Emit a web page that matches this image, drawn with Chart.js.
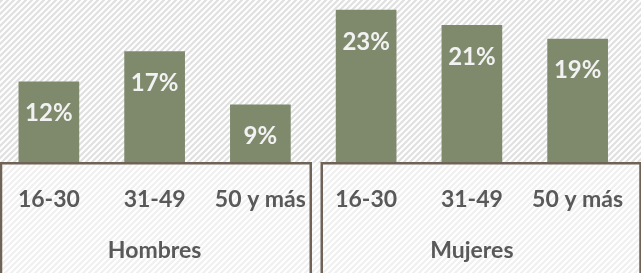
<!DOCTYPE html>
<html lang="es">

<head>
    <meta charset="utf-8">
    <title>Por edad y sexo</title>
    <script src="https://cdn.jsdelivr.net/npm/chart.js@4.4.0/dist/chart.umd.min.js"></script>
    <style>
        body {
            margin: 0;
            padding: 0;
            background: #ffffff;
            overflow: hidden;
            font-family: 'Lato', sans-serif;
        }

        #chart-container {
            position: absolute;
            left: -4px;
            top: 0;
            width: 650px;
            height: 273px;
        }
    </style>
</head>

<body>
    <div id="chart-container">
        <canvas id="edadChart"></canvas>
    </div>

    <script>
        // datos
        const ageLabels = ['16-30', '31-49', '50 y más', '16-30', '31-49', '50 y más'];
        const groupLabels = ['Hombres', 'Mujeres'];
        const percentages = [12.4, 17.0, 8.9, 23.3, 21.0, 18.9];

        const barColor = '#7f8a6d';
        const boxColor = '#6f6257';

        function stripePattern(ctx, stripe) {
            const tile = document.createElement('canvas');
            tile.width = 6;
            tile.height = 6;
            const t = tile.getContext('2d');
            t.fillStyle = '#ffffff';
            t.fillRect(0, 0, 6, 6);
            t.strokeStyle = stripe;
            t.lineWidth = 2.2;
            t.beginPath();
            t.moveTo(-1, 7); t.lineTo(7, -1);
            t.moveTo(-1, 1); t.lineTo(1, -1);
            t.moveTo(5, 7); t.lineTo(7, 5);
            t.stroke();
            return ctx.createPattern(tile, 'repeat');
        }

        // fondo rayado
        const backgroundPlugin = {
            id: 'stripes',
            beforeDraw(chart) {
                const { ctx, chartArea } = chart;
                ctx.save();
                ctx.fillStyle = stripePattern(ctx, '#e0e0e0');
                ctx.fillRect(0, 0, chart.width, chartArea.bottom);
                ctx.fillStyle = stripePattern(ctx, '#f0f0f0');
                ctx.fillRect(0, chartArea.bottom, chart.width, chart.height - chartArea.bottom);
                ctx.restore();
            }
        };

        // cajas de los grupos + etiquetas de valor
        const boxesPlugin = {
            id: 'groupBoxes',
            afterDatasetsDraw(chart) {
                const { ctx, chartArea, scales } = chart;
                const x = scales.x;
                const half = (x.getPixelForValue(1) - x.getPixelForValue(0)) / 2;
                const top = chartArea.bottom + 0.5;
                const bottom = chart.height + 10;
                const mid = x.getPixelForValue(2) + half;
                const boxes = [
                    [x.getPixelForValue(0) - half + 5, mid - 2.5],
                    [mid + 8.5, x.getPixelForValue(5) + half + 10]
                ];

                ctx.save();
                ctx.strokeStyle = boxColor;
                ctx.lineWidth = 2.5;
                boxes.forEach(([l, r]) => {
                    ctx.beginPath();
                    ctx.moveTo(l, bottom);
                    ctx.lineTo(l, top);
                    ctx.lineTo(r, top);
                    ctx.lineTo(r, bottom);
                    ctx.stroke();
                });

                ctx.fillStyle = '#f2f2f2';
                ctx.font = 'bold 24px Lato';
                ctx.textAlign = 'center';
                ctx.textBaseline = 'middle';
                chart.getDatasetMeta(0).data.forEach((bar, i) => {
                    ctx.fillText(Math.round(percentages[i]) + '%', bar.x, bar.y + 32);
                });
                ctx.restore();
            }
        };

        const ctx = document.getElementById('edadChart').getContext('2d');

        const edadChart = new Chart(ctx, {
            type: 'bar',
            data: {
                labels: ageLabels,
                datasets: [
                    {
                        data: percentages,
                        backgroundColor: barColor,
                        borderWidth: 0,
                        barPercentage: 0.574,
                        categoryPercentage: 1
                    }
                ]
            },
            options: {
                responsive: true,
                maintainAspectRatio: false,
                animation: false,
                layout: {
                    padding: { left: 0, right: 3, top: 0, bottom: 9 }
                },
                plugins: {
                    legend: { display: false },
                    tooltip: { enabled: false }
                },
                scales: {
                    x: {
                        weight: 0,
                        grid: { display: false, drawTicks: false, tickLength: 0 },
                        border: { display: false },
                        ticks: {
                            color: '#595959',
                            font: { family: 'Lato', size: 23, weight: 'bold' },
                            padding: 22.6,
                            maxRotation: 0,
                            autoSkip: false
                        },
                        afterFit(scale) { scale.height = 50.2; }
                    },
                    x2: {
                        type: 'category',
                        position: 'bottom',
                        weight: 1,
                        labels: groupLabels,
                        offset: true,
                        grid: { display: false, drawTicks: false, tickLength: 0 },
                        border: { display: false },
                        ticks: {
                            color: '#595959',
                            font: { family: 'Lato', size: 23, weight: 'bold' },
                            padding: 23.4,
                            maxRotation: 0,
                            autoSkip: false
                        },
                        afterFit(scale) { scale.height = 51; }
                    },
                    y: {
                        display: false,
                        min: 0,
                        max: 24.8
                    }
                }
            },
            plugins: [backgroundPlugin, boxesPlugin]
        });
    </script>
</body>

</html>
